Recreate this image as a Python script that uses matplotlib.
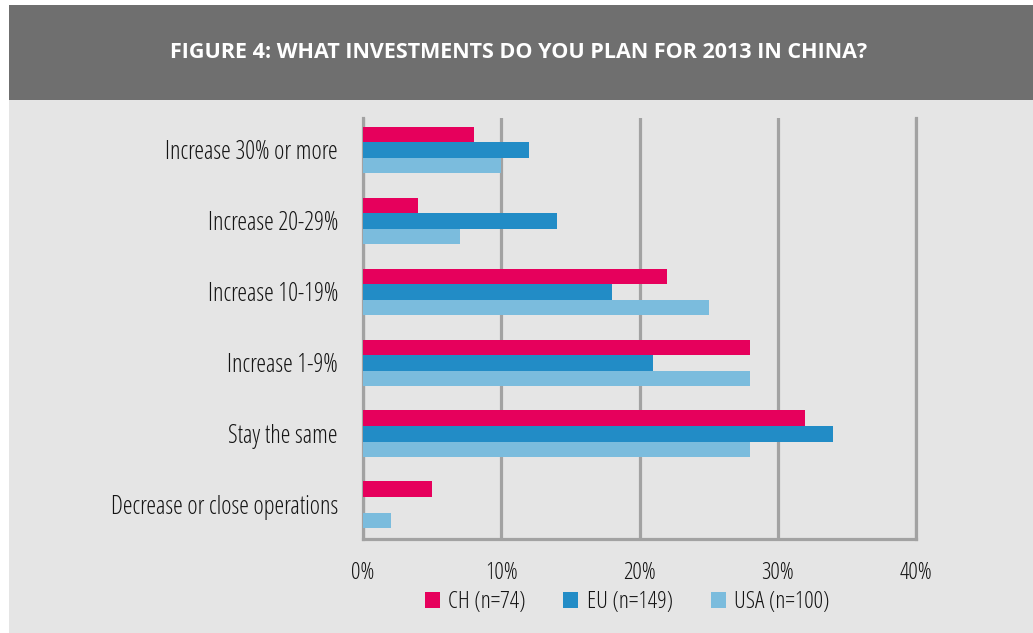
import matplotlib
matplotlib.use('Agg')
import matplotlib.pyplot as plt
from matplotlib.patches import Rectangle, Patch
import numpy as np

# Daten aus der Abbildung
categories = ['Increase 30% or more', 'Increase 20-29%', 'Increase 10-19%',
              'Increase 1-9%', 'Stay the same', 'Decrease or close operations']
ch_values = [8, 4, 22, 28, 32, 5]
eu_values = [12, 14, 18, 21, 34, 0]
usa_values = [10, 7, 25, 28, 28, 2]
series_names = ['CH (n=74)', 'EU (n=149)', 'USA (n=100)']
x_ticks = [0, 10, 20, 30, 40]
x_tick_labels = ['0%', '10%', '20%', '30%', '40%']
title = 'FIGURE 4: WHAT INVESTMENTS DO YOU PLAN FOR 2013 IN CHINA?'

colors = ['#e6005c', '#228cc6', '#7bbcdd']
grid_col = '#a2a2a2'
text_col = '#141414'
plt.rcParams['font.family'] = ['Open Sans', 'DejaVu Sans']
plt.rcParams['font.stretch'] = 'condensed'

W, H = 1033, 633
fig = plt.figure(figsize=(W / 100, H / 100), dpi=100)
fig.patch.set_facecolor('white')

# Hintergrund und Kopfzeile
fig.add_artist(Rectangle((9 / W, 0), 1 - 9 / W, 1 - 100 / H, transform=fig.transFigure,
                         facecolor='#e5e5e5', edgecolor='none', zorder=0))
fig.add_artist(Rectangle((9 / W, 1 - 100 / H), 1 - 9 / W, 95 / H, transform=fig.transFigure,
                         facecolor='#6f6f6f', edgecolor='none', zorder=0))
fig.text(519 / W, 1 - 53 / H, title, color='white', fontsize=15.5,
         fontweight='bold', ha='center', va='center')

ax = fig.add_axes([363 / W, 1 - 539 / H, (916 - 363) / W, (539 - 118) / H])
ax.set_facecolor('none')

y = np.arange(len(categories))
h = 0.22
for vals, off, col in zip([ch_values, eu_values, usa_values], [-h, 0, h], colors):
    ax.barh(y + off, vals, height=h, color=col, zorder=3)

ax.set_xlim(0, 40)
ax.set_ylim(5.48, -0.45)
ax.set_xticks(x_ticks)
ax.set_xticklabels(x_tick_labels)
ax.set_yticks(y)
ax.set_yticklabels(categories)
ax.tick_params(axis='both', length=0, labelsize=17, colors=text_col)
ax.tick_params(axis='y', labelsize=17.7, pad=18)
ax.tick_params(axis='x', pad=16)

ax.grid(axis='x', color=grid_col, linewidth=2.3, zorder=1)
ax.spines['top'].set_visible(False)
for s in ['left', 'bottom', 'right']:
    ax.spines[s].set_color(grid_col)
    ax.spines[s].set_linewidth(2.3)

handles = [Patch(facecolor=c, edgecolor='none') for c in colors]
fig.legend(handles, series_names, loc='center', bbox_to_anchor=(627 / W, 1 - 602 / H),
           ncol=3, frameon=False, fontsize=17, handlelength=0.64, handleheight=0.64,
           handletextpad=0.35, columnspacing=1.6, labelcolor=text_col)

plt.savefig('out.png', dpi=100, facecolor=fig.get_facecolor())
